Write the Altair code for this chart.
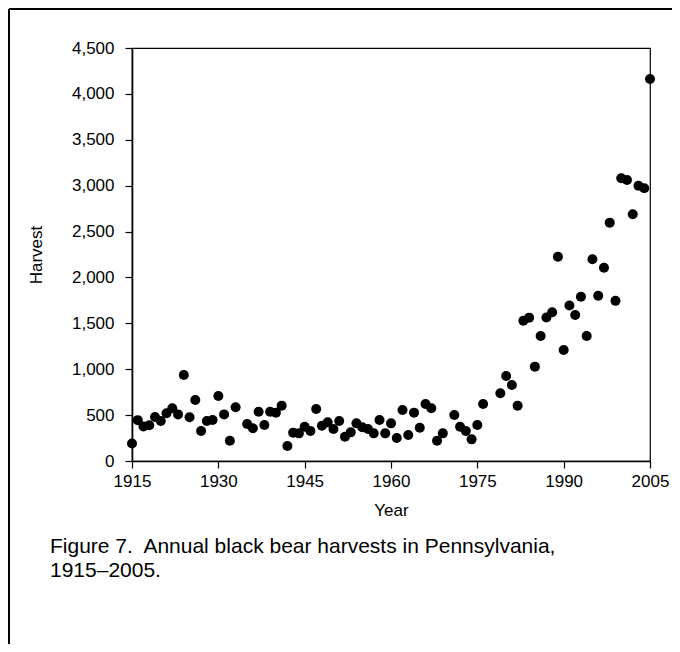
import altair as alt
import pandas as pd

years = (list(range(1915, 1934)) + list(range(1935, 1970)) + list(range(1971, 1977))
         + list(range(1979, 2006)))
harvest = [
    190, 445, 375, 390, 480, 436, 520, 574, 508, 937,   # 1915-1924
    476, 665, 327, 436, 447, 708, 508, 221, 585,        # 1925-1933
    403, 356, 537, 392, 537, 527, 603, 163, 309, 301,   # 1935-1944
    374, 327, 567, 385, 421, 349, 436, 265, 312, 410,   # 1945-1954
    367, 349, 301, 447, 301, 410, 250, 556, 283, 527,   # 1955-1964
    363, 621, 574, 221, 301,                            # 1965-1969
    501, 374, 327, 236, 392, 621,                       # 1971-1976
    738, 926, 828, 603, 1529, 1562, 1028, 1362, 1564,   # 1979-1987
    1620, 2226, 1209, 1694, 1591, 1790, 1362, 2198,     # 1988-1995
    1801, 2106, 2597, 1745, 3080, 3062, 2688, 3000,     # 1996-2003
    2971, 4162,                                         # 2004-2005
]
x_ticks = [1915, 1930, 1945, 1960, 1975, 1990, 2005]
y_ticks = [0, 500, 1000, 1500, 2000, 2500, 3000, 3500, 4000, 4500]
caption_lines = ["Figure 7.\u00a0 Annual black bear harvests in Pennsylvania,", "1915\u20132005."]

df = pd.DataFrame({"year": years, "harvest": harvest})
FONT = "Liberation Sans"
W, H = 518, 413

points = alt.Chart(df).mark_circle(size=100, color="black", opacity=1).encode(
    x=alt.X("year:Q",
            scale=alt.Scale(domain=[1915, 2005], nice=False, zero=False),
            axis=alt.Axis(values=x_ticks, format="d", title="Year", grid=False,
                          tickSize=7, labelPadding=5, titlePadding=13,
                          labelFlush=False, labelOverlap=False)),
    y=alt.Y("harvest:Q",
            scale=alt.Scale(domain=[0, 4500], nice=False),
            axis=alt.Axis(values=y_ticks, format=",d", title="Harvest", grid=False,
                          tickSize=7, labelPadding=11, titlePadding=26,
                          labelFlush=False, labelOverlap=False)),
)

cap_df = pd.DataFrame({"k": [0]})
caption = alt.Chart(cap_df).mark_text(
    align="left", baseline="top", font=FONT, fontSize=21, lineHeight=24, color="black"
).encode(x=alt.value(-82), y=alt.value(488), text=alt.value(caption_lines))

top_line = alt.Chart(cap_df).mark_rule(color="black", strokeWidth=2).encode(
    x=alt.value(-123), x2=alt.value(600), y=alt.value(-39))
left_line = alt.Chart(cap_df).mark_rule(color="black", strokeWidth=2).encode(
    x=alt.value(-123), y=alt.value(-39), y2=alt.value(650))

chart = alt.layer(top_line, left_line, points, caption).properties(
    width=W, height=H,
    autosize=alt.AutoSizeParams(type="none"),
    padding={"left": 124, "top": 40, "right": 22, "bottom": 183},
).configure_view(stroke="black", strokeWidth=1.2).configure_axis(
    labelFont=FONT, titleFont=FONT, labelFontSize=17, titleFontSize=17,
    labelColor="black", titleColor="black", titleFontWeight="normal",
    domainColor="black", tickColor="black", domainWidth=1.6, tickWidth=1.2,
)

chart.save("out.html", embed_options={"renderer": "svg", "actions": False})
